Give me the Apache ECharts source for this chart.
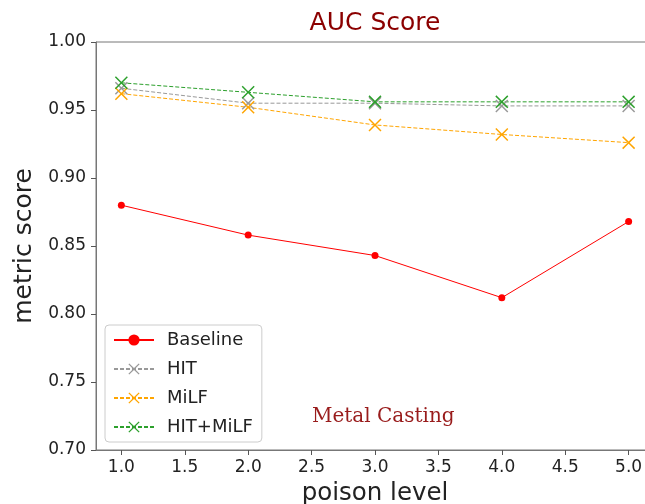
<!DOCTYPE html>
<html><head><meta charset="utf-8">
<script src="https://cdn.jsdelivr.net/npm/echarts@6/dist/echarts.min.js"></script>
<style>html,body{margin:0;padding:0;background:#fff}#c{width:645px;height:504px}</style>
</head><body><div id="c"></div>
<script>
const poisonLevels = [1.0, 2.0, 3.0, 4.0, 5.0];
const baseline = [0.880, 0.858, 0.843, 0.812, 0.868];
const hit = [0.966, 0.955, 0.955, 0.953, 0.953];
const milf = [0.962, 0.952, 0.939, 0.932, 0.926];
const hitMilf = [0.970, 0.963, 0.956, 0.956, 0.956];
const xTicks = [1.0, 1.5, 2.0, 2.5, 3.0, 3.5, 4.0, 4.5, 5.0];
const seriesNames = ['Baseline', 'HIT', 'MiLF', 'HIT+MiLF'];

const X = 'path://M0,0.8L0.8,0L5,4.2L9.2,0L10,0.8L5.8,5L10,9.2L9.2,10L5,5.8L0.8,10L0,9.2L4.2,5Z';
const pairs = arr => poisonLevels.map((x, i) => [x, arr[i]]);
const font = 'DejaVu Sans';

function dashed(name, arr, color) {
  return {
    name, type: 'line', data: pairs(arr), symbol: X, symbolSize: 13,
    itemStyle: { color }, lineStyle: { color, width: 1, type: [4, 2] },
    emphasis: { disabled: true }
  };
}

const chart = echarts.init(document.getElementById('c'), null, { renderer: 'canvas' });
chart.setOption({
  animation: false,
  backgroundColor: '#fff',
  title: {
    text: 'AUC Score', left: 370, top: 6, textAlign: 'center',
    textStyle: { color: '#8b0000', fontFamily: font, fontSize: 25, fontWeight: 'normal' }
  },
  grid: { left: 96, top: 42, width: 558, bottom: 54, outerBoundsMode: 'none', containLabel: false,
    show: true, borderColor: '#777', borderWidth: 1, backgroundColor: 'transparent' },
  xAxis: {
    type: 'value', min: 0.8, max: 5.2,
    name: 'poison level', nameLocation: 'middle', nameGap: 28,
    nameTextStyle: { fontFamily: font, fontSize: 24.5, color: '#222' },
    axisLine: { show: true, lineStyle: { color: '#777' } },
    axisTick: { show: true, inside: false, length: 5, customValues: xTicks, lineStyle: { color: '#555' } },
    axisLabel: { customValues: xTicks, formatter: v => v.toFixed(1), fontFamily: font, fontSize: 17, color: '#222', margin: 9 },
    splitLine: { show: false }
  },
  yAxis: {
    type: 'value', min: 0.70, max: 1.00, interval: 0.05,
    name: 'metric score', nameLocation: 'middle', nameGap: 52,
    nameTextStyle: { fontFamily: font, fontSize: 25, color: '#222' },
    axisLine: { show: true, lineStyle: { color: '#777' } },
    axisTick: { show: true, length: 5, lineStyle: { color: '#555' } },
    axisLabel: { formatter: v => v.toFixed(2), fontFamily: font, fontSize: 17, color: '#222', margin: 10 },
    splitLine: { show: false }
  },
  legend: {
    orient: 'vertical', left: 105, top: 325,
    data: seriesNames,
    itemWidth: 40, itemHeight: 14, itemGap: 11,
    padding: [6, 9, 6, 8],
    borderColor: '#ccc', borderWidth: 1, borderRadius: 4,
    backgroundColor: 'rgba(255,255,255,0.8)',
    textStyle: { fontFamily: font, fontSize: 18, color: '#222', padding: [0, 0, 0, 8] }
  },
  graphic: [{
    type: 'text', left: 312, top: 407,
    style: { text: 'Metal Casting', fill: '#991c1c', font: '20px "DejaVu Serif"' }
  }],
  series: [
    {
      name: 'Baseline', type: 'line', data: pairs(baseline), symbol: 'circle', symbolSize: 7,
      itemStyle: { color: '#ff0000' }, lineStyle: { color: '#ff0000', width: 1 },
      emphasis: { disabled: true }
    },
    dashed('HIT', hit, '#999999'),
    dashed('MiLF', milf, '#ffa500'),
    dashed('HIT+MiLF', hitMilf, '#2ca02c')
  ]
});
</script></body></html>
